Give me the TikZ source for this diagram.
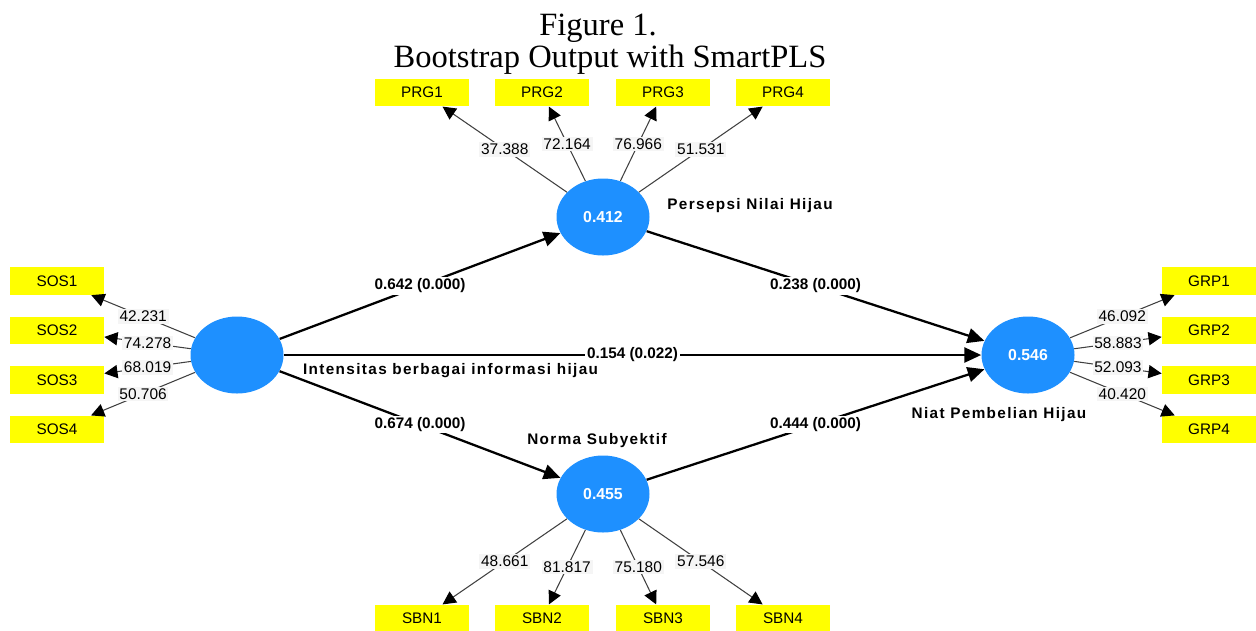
\documentclass[tikz,border=0pt]{standalone}
\usepackage{fontspec}
\setmainfont{Liberation Serif}
\setsansfont{Liberation Sans}
\newfontfamily\lvfont[LetterSpace=9]{Liberation Sans}
\usetikzlibrary{shapes.geometric,arrows.meta}

\definecolor{lvblue}{RGB}{30,144,255}
\definecolor{indyellow}{RGB}{255,255,0}
\definecolor{lblgray}{RGB}{245,245,245}

\tikzset{
  latent/.style={ellipse, fill=lvblue, minimum width=1.86cm, minimum height=1.54cm, inner sep=0pt,
    text=white, font=\sffamily\bfseries\fontsize{9}{10}\selectfont},
  indicator/.style={rectangle, fill=indyellow, minimum width=1.88cm, minimum height=0.55cm, inner sep=0pt,
    font=\sffamily\fontsize{8.7}{10}\selectfont},
  outerload/.style={-{Triangle[length=7.5pt,width=7.5pt,color=black]}, draw=black!75, line width=0.6pt},
  innerpath/.style={-{Triangle[length=9.5pt,width=8.5pt]}, line width=1.3pt},
  loadlbl/.style={fill=lblgray, inner sep=1pt, font=\sffamily\fontsize{8.8}{10}\selectfont},
  pathlbl/.style={fill=white, inner sep=1pt, font=\sffamily\bfseries\fontsize{8.7}{10}\selectfont},
  lvname/.style={font=\lvfont\bfseries\fontsize{8.7}{10}\selectfont},
}

\begin{document}
\begin{tikzpicture}
  \useasboundingbox (0,0) rectangle (25.12,-12.6);

  % Caption
  \node (fig-no) at (11.96,-0.56) {\fontsize{18.5}{20}\selectfont Figure 1.};
  \node (fig-title) at (12.2,-1.2) {\fontsize{18.5}{20}\selectfont Bootstrap Output with SmartPLS};

  % Latent variables
  \node[latent] (isi) at (4.74,-7.1) {};
  \node[latent] (pnh) at (12.06,-4.34) {0.412};
  \node[latent] (ns) at (12.06,-9.88) {0.455};
  \node[latent] (nph) at (20.56,-7.1) {0.546};

  \node[lvname] at (15.0,-4.12) {Persepsi Nilai Hijau};
  \node[lvname] at (9.01,-7.42) {Intensitas berbagai informasi hijau};
  \node[lvname] at (11.94,-8.82) {Norma Subyektif};
  \node[lvname] at (19.98,-8.3) {Niat Pembelian Hijau};

  % Left side: SOS indicators
  \node[indicator] (sos1) at (1.14,-5.62) {SOS1};
  \node[indicator] (sos2) at (1.14,-6.61) {SOS2};
  \node[indicator] (sos3) at (1.14,-7.6) {SOS3};
  \node[indicator] (sos4) at (1.14,-8.59) {SOS4};

  \draw[outerload] (isi) -- node[loadlbl] {42.231} (sos1);
  \draw[outerload] (isi) -- node[loadlbl] {74.278} (sos2);
  \draw[outerload] (isi) -- node[loadlbl] {68.019} (sos3);
  \draw[outerload] (isi) -- node[loadlbl] {50.706} (sos4);

  % Top: PRG indicators
  \node[indicator] (prg1) at (8.44,-1.85) {PRG1};
  \node[indicator] (prg2) at (10.84,-1.85) {PRG2};
  \node[indicator] (prg3) at (13.26,-1.85) {PRG3};
  \node[indicator] (prg4) at (15.66,-1.85) {PRG4};

  \draw[outerload] (pnh) -- node[loadlbl] {37.388} (prg1);
  \draw[outerload] (pnh) -- node[loadlbl] {72.164} (prg2);
  \draw[outerload] (pnh) -- node[loadlbl] {76.966} (prg3);
  \draw[outerload] (pnh) -- node[loadlbl] {51.531} (prg4);

  % Bottom: SBN indicators
  \node[indicator] (sbn1) at (8.44,-12.37) {SBN1};
  \node[indicator] (sbn2) at (10.84,-12.37) {SBN2};
  \node[indicator] (sbn3) at (13.26,-12.37) {SBN3};
  \node[indicator] (sbn4) at (15.66,-12.37) {SBN4};

  \draw[outerload] (ns) -- node[loadlbl] {48.661} (sbn1);
  \draw[outerload] (ns) -- node[loadlbl] {81.817} (sbn2);
  \draw[outerload] (ns) -- node[loadlbl] {75.180} (sbn3);
  \draw[outerload] (ns) -- node[loadlbl] {57.546} (sbn4);

  % Right side: GRP indicators
  \node[indicator] (grp1) at (24.18,-5.62) {GRP1};
  \node[indicator] (grp2) at (24.18,-6.61) {GRP2};
  \node[indicator] (grp3) at (24.18,-7.6) {GRP3};
  \node[indicator] (grp4) at (24.18,-8.59) {GRP4};

  \draw[outerload] (nph) -- node[loadlbl] {46.092} (grp1);
  \draw[outerload] (nph) -- node[loadlbl] {58.883} (grp2);
  \draw[outerload] (nph) -- node[loadlbl] {52.093} (grp3);
  \draw[outerload] (nph) -- node[loadlbl] {40.420} (grp4);

  % Structural paths
  \draw[innerpath] (isi) -- node[pathlbl] {0.642 (0.000)} (pnh);
  \draw[innerpath] (isi) -- node[pathlbl] {0.674 (0.000)} (ns);
  \draw[innerpath] (isi) -- node[pathlbl] {0.154 (0.022)} (nph);
  \draw[innerpath] (pnh) -- node[pathlbl] {0.238 (0.000)} (nph);
  \draw[innerpath] (ns) -- node[pathlbl] {0.444 (0.000)} (nph);
\end{tikzpicture}
\end{document}
